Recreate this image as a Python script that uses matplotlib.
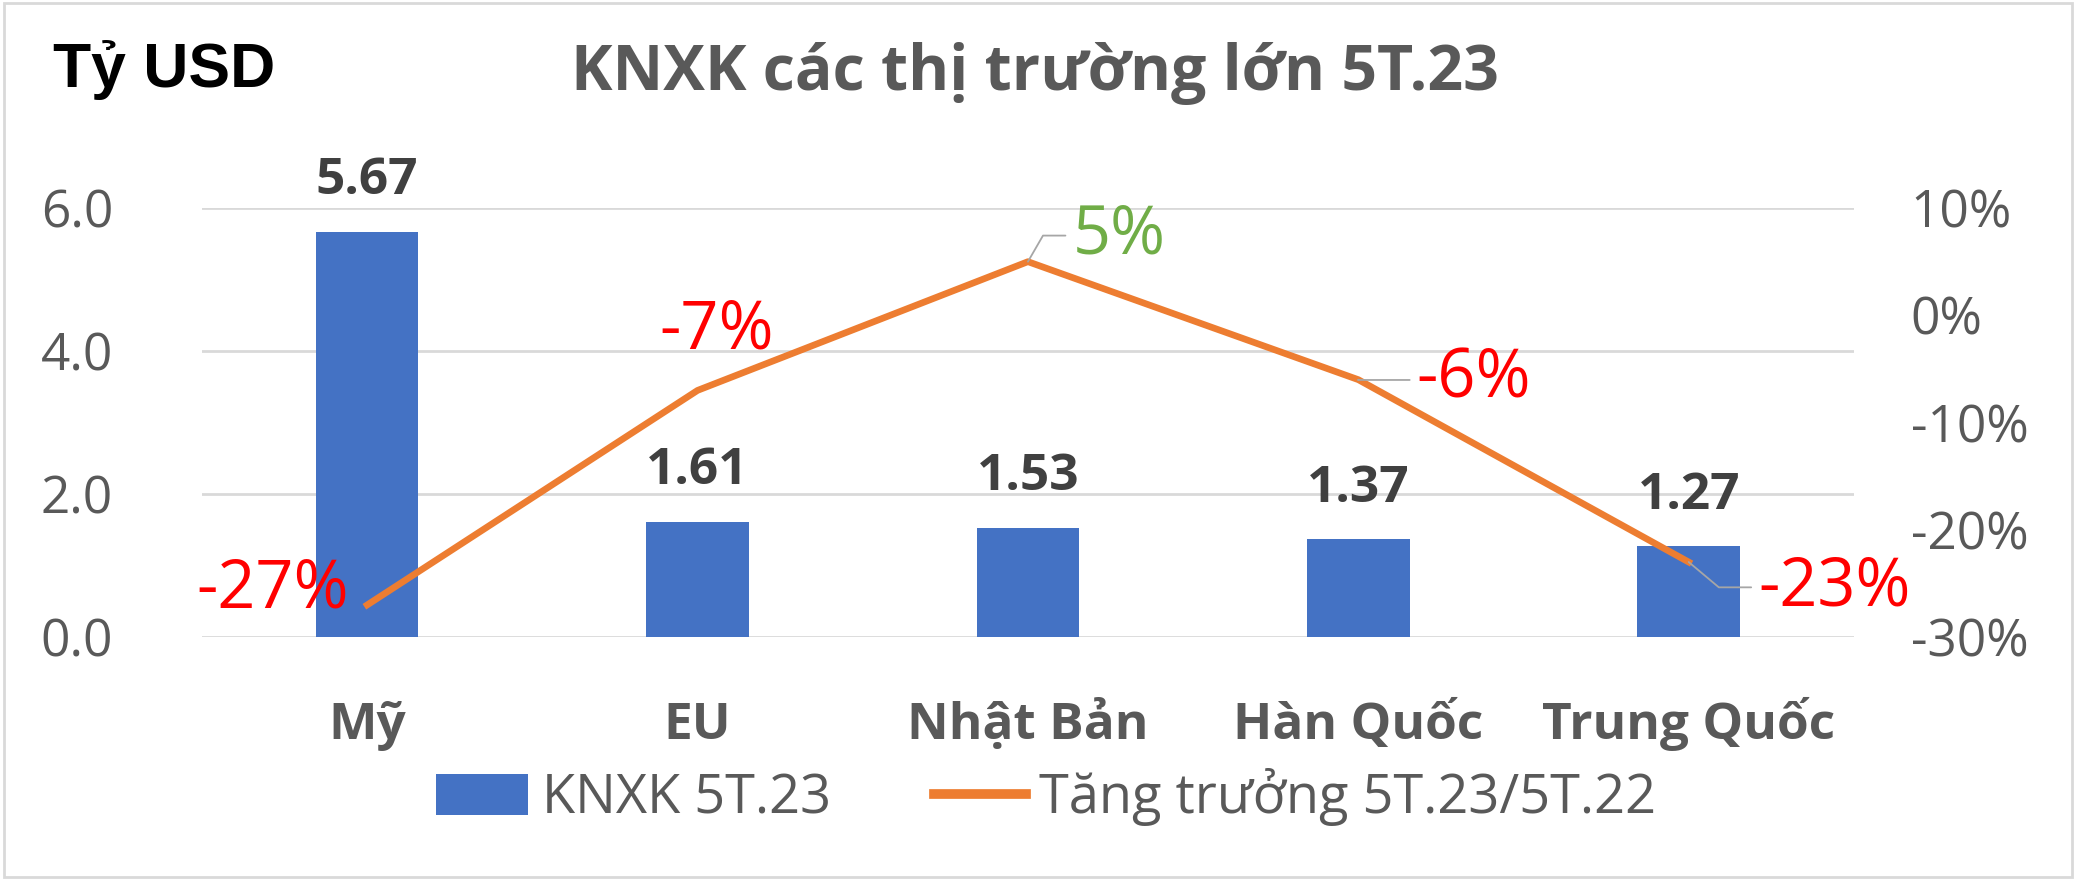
import matplotlib
matplotlib.use("Agg")
import matplotlib.pyplot as plt
from matplotlib.patches import Patch, Rectangle
from matplotlib.lines import Line2D

# data
markets = ["Mỹ", "EU", "Nhật Bản", "Hàn Quốc", "Trung Quốc"]
export_value = [5.67, 1.61, 1.53, 1.37, 1.27]      # Tỷ USD
growth = [-0.27, -0.07, 0.05, -0.06, -0.23]          # 5T.23 / 5T.22
growth_labels = ["-27%", "-7%", "5%", "-6%", "-23%"]
left_ticks = [0.0, 2.0, 4.0, 6.0]
right_ticks = [-0.3, -0.2, -0.1, 0.0, 0.1]

BLUE = "#4472C4"
ORANGE = "#ED7D31"
GREY = "#595959"
plt.rcParams["font.family"] = ["Open Sans", "DejaVu Sans"]

fig = plt.figure(figsize=(20.76, 8.8), dpi=100)
ax = fig.add_axes([0.0973, 0.276, 0.7957, 0.4876])
ax2 = ax.twinx()

x = list(range(len(markets)))
ax.bar(x, export_value, width=0.31, color=BLUE, zorder=2)
ax.set_xlim(-0.5, 4.5)
ax.set_ylim(0, 6)
ax.set_yticks(left_ticks)
ax.set_yticklabels([f"{t:.1f}" for t in left_ticks])
ax.grid(axis="y", color="#D9D9D9", linewidth=2, zorder=0)
ax.set_axisbelow(True)
ax.set_xticks(x)
ax.set_xticklabels(markets, fontweight="bold")
for lab in ax.get_xticklabels():
    lab.set_verticalalignment("baseline")
ax.tick_params(axis="x", length=0, pad=73, labelsize=37, labelcolor=GREY)
ax.tick_params(axis="y", length=0, pad=64, labelsize=37, labelcolor=GREY)

# bar value labels
for i, v in enumerate(export_value):
    ax.annotate(f"{v:.2f}", (i, v), xytext=(0, 27), textcoords="offset points",
                ha="center", va="baseline", fontsize=37, fontweight="bold",
                color="#404040")

ax2.plot(x, growth, color=ORANGE, linewidth=4.8, solid_joinstyle="round", zorder=3)
ax2.set_ylim(-0.3, 0.1)
ax2.set_yticks(right_ticks)
ax2.set_yticklabels([f"{round(t * 100)}%" for t in right_ticks])
ax2.tick_params(axis="y", length=0, pad=41, labelsize=37, labelcolor=GREY)

for a in (ax, ax2):
    for s in a.spines.values():
        s.set_visible(False)

# growth labels: (dx, dy in points, ha, colour, leader angle)
label_style = [
    (-13, -2, "right", "#FF0000", None),
    (14, 30, "center", "#FF0000", None),
    (32, 6, "left", "#70AD47", 60),
    (42, -13, "left", "#FF0000", 40),
    (50, -31, "left", "#FF0000", -40),
]
for i, (g, txt) in enumerate(zip(growth, growth_labels)):
    dx, dy, ha, col, ang = label_style[i]
    arrow = None
    if ang is not None:
        arrow = dict(arrowstyle="-", color="#A6A6A6", lw=1.3, relpos=(0, 0.5),
                     shrinkA=3, shrinkB=0,
                     connectionstyle=f"angle,angleA=0,angleB={ang},rad=0")
    ax2.annotate(txt, (i, g), xytext=(dx, dy), textcoords="offset points",
                 ha=ha, va="baseline", fontsize=48, color=col, arrowprops=arrow)

# titles
fig.text(0.0255, 0.921, "Tỷ USD", fontsize=45, fontweight="bold",
         family="Liberation Sans", color="black", va="center", ha="left")
fig.text(0.4986, 0.916, "KNXK các thị trường lớn 5T.23", fontsize=45,
         fontweight="bold", color=GREY, va="center", ha="center")

handles = [Patch(facecolor=BLUE, edgecolor="none"),
           Line2D([0], [0], color=ORANGE, linewidth=7)]
fig.legend(handles, ["KNXK 5T.23", "Tăng trưởng 5T.23/5T.22"],
           loc="center", bbox_to_anchor=(0.504, 0.094), ncol=2, frameon=False,
           fontsize=39, labelcolor=GREY, handlelength=1.7, handleheight=0.8,
           handletextpad=0.25, columnspacing=1.9)

fig.patches.append(Rectangle((0.002, 0.003), 0.996, 0.994, transform=fig.transFigure,
                             fill=False, edgecolor="#D9D9D9", linewidth=2))

fig.savefig("out.png", dpi=100)
